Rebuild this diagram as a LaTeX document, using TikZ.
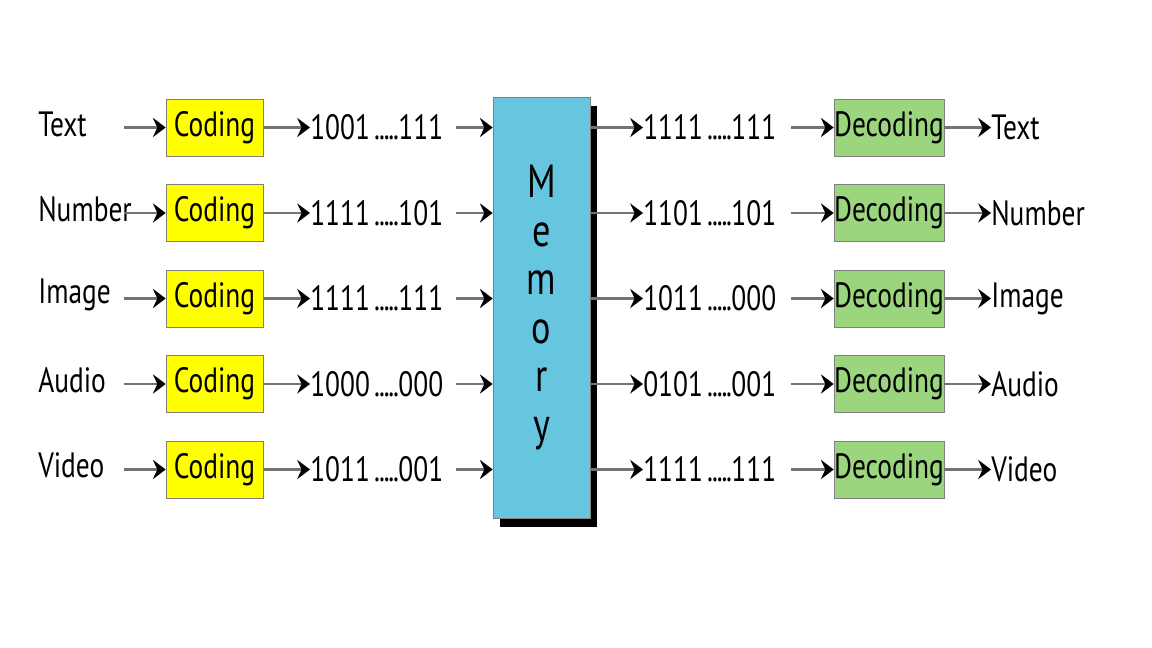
\documentclass[tikz,border=0pt]{standalone}
\usepackage{fontspec}
\setmainfont{PT Sans}[FakeStretch=0.78]
\usetikzlibrary{arrows.meta,positioning,shadows}
\definecolor{codeyellow}{RGB}{255,255,0}
\definecolor{decgreen}{RGB}{155,214,126}
\definecolor{memblue}{RGB}{102,197,223}
\newcommand{\bitdots}{\kern3pt.\kern-0.8pt.\kern-0.8pt.\kern-0.8pt.\kern-0.8pt.\kern-0.5pt}
\tikzset{
      flow/.style     = {draw=black!55, line width=1.6pt, -{Stealth[black,length=3.2mm,width=4.8mm,inset=1.1mm]}},
      codebox/.style  = {draw=black!50, fill=codeyellow, minimum width=24.25mm, minimum height=14.25mm, inner sep=0pt},
      decbox/.style   = {codebox, fill=decgreen, minimum width=27.5mm},
      membox/.style   = {draw=black!50, fill=memblue, minimum width=24.25mm, minimum height=105.25mm, align=center,
                         font=\fontsize{33}{34.5}\selectfont,
                         general shadow={fill=black, shadow xshift=1.75mm, shadow yshift=-2.25mm}},
      srclabel/.style = {anchor=west, text width=21.25mm, inner sep=0pt, align=left},
      bitsin/.style   = {anchor=west, text width=36.25mm, inner sep=0pt, align=left},
      bitsout/.style  = {anchor=west, text width=36.75mm, inner sep=0pt, align=left},
      dstlabel/.style = {anchor=west, inner sep=0pt},
    }
\begin{document}
\begin{tikzpicture}[x=0.25mm, y=-0.25mm, font=\fontsize{25}{29}\selectfont]
        \useasboundingbox (0,0) rectangle (1152,648);
        \node [membox] (mem) at (541.5,307.5) {M\\e\\m\\o\\r\\y};

        % text row
        \node [srclabel] (tin) at (38,124) {Text};
        \node [codebox] (tcod) at (214.5,127.5) {Coding};
        \node [bitsin] (tbin) at (310,127.5) {1001\bitdots111};
        \node [bitsout] (tbout) at (643,127.5) {1111\bitdots111};
        \node [decbox] (tdec) at (889,127.5) {Decoding};
        \node [dstlabel] (tout) at (991,127.5) {Text};
        % number row
        \node [srclabel] (nin) at (38,209) {Number};
        \node [codebox] (ncod) at (214.5,213) {Coding};
        \node [bitsin] (nbin) at (310,213) {1111\bitdots101};
        \node [bitsout] (nbout) at (643,213) {1101\bitdots101};
        \node [decbox] (ndec) at (889,213) {Decoding};
        \node [dstlabel] (nout) at (991,213) {Number};
        % image row
        \node [srclabel] (iin) at (38,295) {Image};
        \node [codebox] (icod) at (214.5,298.5) {Coding};
        \node [bitsin] (ibin) at (310,298.5) {1111\bitdots111};
        \node [bitsout] (ibout) at (643,298.5) {1011\bitdots000};
        \node [decbox] (idec) at (889,298.5) {Decoding};
        \node [dstlabel] (iout) at (991,298.5) {Image};
        % audio row
        \node [srclabel] (ain) at (38,380) {Audio};
        \node [codebox] (acod) at (214.5,384) {Coding};
        \node [bitsin] (abin) at (310,384) {1000\bitdots000};
        \node [bitsout] (about) at (643,384) {0101\bitdots001};
        \node [decbox] (adec) at (889,384) {Decoding};
        \node [dstlabel] (aout) at (991,384) {Audio};
        % video row
        \node [srclabel] (vin) at (38,465) {Video};
        \node [codebox] (vcod) at (214.5,469.5) {Coding};
        \node [bitsin] (vbin) at (310,469.5) {1011\bitdots001};
        \node [bitsout] (vbout) at (643,469.5) {1111\bitdots111};
        \node [decbox] (vdec) at (889,469.5) {Decoding};
        \node [dstlabel] (vout) at (991,469.5) {Video};

        \path (tin.east |- tcod) edge[flow] (tcod);
        \path (tcod) edge[flow] (tbin);
        \path (tbin) edge[flow] (tbin -| mem.west);
        \path (tbout -| mem.east) edge[flow] (tbout);
        \path (tbout) edge[flow] (tdec);
        \path (tdec) edge[flow] (tout);

        \path (nin.east |- ncod) edge[flow] (ncod);
        \path (ncod) edge[flow] (nbin);
        \path (nbin) edge[flow] (nbin -| mem.west);
        \path (nbout -| mem.east) edge[flow] (nbout);
        \path (nbout) edge[flow] (ndec);
        \path (ndec) edge[flow] (nout);

        \path (iin.east |- icod) edge[flow] (icod);
        \path (icod) edge[flow] (ibin);
        \path (ibin) edge[flow] (ibin -| mem.west);
        \path (ibout -| mem.east) edge[flow] (ibout);
        \path (ibout) edge[flow] (idec);
        \path (idec) edge[flow] (iout);

        \path (ain.east |- acod) edge[flow] (acod);
        \path (acod) edge[flow] (abin);
        \path (abin) edge[flow] (abin -| mem.west);
        \path (about -| mem.east) edge[flow] (about);
        \path (about) edge[flow] (adec);
        \path (adec) edge[flow] (aout);

        \path (vin.east |- vcod) edge[flow] (vcod);
        \path (vcod) edge[flow] (vbin);
        \path (vbin) edge[flow] (vbin -| mem.west);
        \path (vbout -| mem.east) edge[flow] (vbout);
        \path (vbout) edge[flow] (vdec);
        \path (vdec) edge[flow] (vout);
        \end{tikzpicture}
\end{document}
